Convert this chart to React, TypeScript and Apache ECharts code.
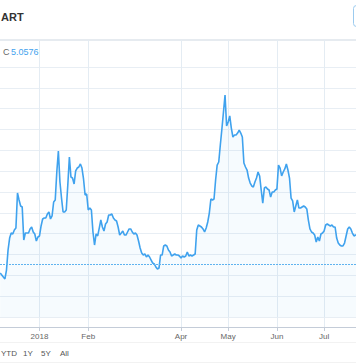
import React, { useEffect, useRef } from 'react';
import * as echarts from 'echarts';

// ---- data ----
const startDate = '2017-12-07'; // first daily close visible
const prices = [
  4.22, 4.03, 3.84, 3.65, 4.51, 6.43, 7.58, 8.06, 7.97, 8.35,
  8.54, 11.9, 11.23, 10.66, 10.56, 7.39, 8.06, 8.06, 8.06, 8.45,
  8.64, 8.16, 7.97, 7.3, 7.68, 7.78, 8.74, 9.41, 9.5, 9.5,
  9.89, 10.08, 9.41, 9.7, 11.04, 11.23, 13.92, 15.94, 12.96, 11.42,
  10.08, 10.08, 10.27, 12.67, 15.36, 13.44, 13.34, 12.77, 14.02, 14.3,
  14.4, 14.69, 14.3, 13.25, 11.71, 11.81, 10.27, 10.46, 10.27, 8.16,
  6.91, 7.97, 7.78, 8.54, 9.31, 8.64, 8.26, 8.93, 9.12, 9.79,
  9.79, 9.89, 9.5, 9.31, 9.22, 8.64, 7.87, 8.06, 8.26, 7.87,
  7.87, 8.16, 8.45, 8.45, 8.16, 7.97, 8.06, 7.87, 7.3, 6.62,
  6.14, 5.95, 6.05, 5.76, 5.95, 5.76, 5.47, 5.18, 5.09, 4.8,
  4.61, 4.7, 5.95, 5.95, 6.82, 6.91, 6.82, 6.43, 6.24, 5.86,
  5.95, 6.05, 5.95, 5.95, 5.86, 5.66, 5.86, 5.76, 5.86, 6.24,
  5.86, 5.95, 5.86, 5.95, 6.05, 8.35, 8.83, 8.74, 8.64, 8.45,
  8.16, 8.54, 9.12, 9.98, 11.33, 11.23, 11.33, 13.15, 14.59, 14.88,
  16.51, 18.05, 19.68, 21.31, 18.33, 18.72, 19.3, 18.14, 17.28, 17.47,
  17.47, 17.66, 17.95, 17.66, 17.28, 14.78, 14.4, 14.11, 13.34, 12.86,
  12.58, 12.48, 12.96, 13.34, 13.92, 13.54, 12.19, 10.94, 12.38, 12.48,
  12.29, 12.19, 11.52, 12.0, 12.0, 12.19, 12.29, 14.59, 14.3, 13.54,
  13.92, 14.21, 14.69, 14.11, 13.34, 11.42, 11.14, 10.08, 10.66, 11.23,
  10.46, 10.46, 10.56, 10.66, 10.56, 10.37, 9.31, 8.45, 8.16, 8.06,
  7.87, 7.2, 7.68, 7.3, 7.97, 8.06, 8.26, 8.83, 8.93, 8.83,
  8.74, 8.83, 8.64, 8.64, 7.58, 7.1, 6.91, 6.82, 6.82, 7.1,
  7.78, 8.45, 8.64, 8.45, 8.06, 7.78, 7.87, 7.87,
];
const tickDates = ['2018-01-01', '2018-02-01', '2018-04-01', '2018-05-01', '2018-06-01', '2018-07-01'];
const tickLabels = ['2018', 'Feb', 'Apr', 'May', 'Jun', 'Jul'];
const lastClose = 5.0576;
const closeLabel = 'C';
const titleText = 'ART';
const rangeButtons = ['YTD', '1Y', '5Y', 'All'];
const viewStart = '2017-12-06T21:00:00Z';
const viewEnd = '2018-07-21T07:00:00Z';

const DAY = 86400000;
const FONT = '"Liberation Sans", Arial, sans-serif';

export default function App() {
  const ref = useRef<HTMLDivElement>(null);
  useEffect(() => {
    if (!ref.current) return;
    const chart = echarts.init(ref.current, undefined, { renderer: 'svg' });
    const t0 = Date.parse(startDate);
    const seriesData = prices.map((v, i) => [t0 + i * DAY, v]);
    const tickTs = tickDates.map((d) => Date.parse(d));
    const xMin = Date.parse(viewStart);
    const xMax = Date.parse(viewEnd);
    const labelFor = (val: number) => {
      const idx = tickTs.findIndex((t) => Math.abs(t - val) < DAY / 2);
      return idx >= 0 ? tickLabels[idx] : '';
    };
    const btnX = [1, 23, 41, 60];
    chart.setOption({
      animation: false,
      grid: [
        { left: 0, right: 0, top: 67, height: 250 },
        { left: 0, right: 0, top: 40, height: 287 },
      ],
      xAxis: [
        { type: 'value', gridIndex: 0, min: xMin, max: xMax, show: false },
        {
          type: 'value',
          gridIndex: 1,
          min: xMin,
          max: xMax,
          axisLine: { show: true, lineStyle: { color: '#c4ccd8', width: 1 } },
          axisTick: { show: true, customValues: tickTs, length: 4, lineStyle: { color: '#c4ccd8' } },
          axisLabel: {
            customValues: tickTs,
            formatter: (v: number) => labelFor(v),
            color: '#666666',
            fontSize: 8,
            fontFamily: FONT,
            margin: 5,
          },
          splitLine: { show: true, lineStyle: { color: '#e4ecf3', width: 1 } },
        },
      ],
      yAxis: [
        {
          type: 'value',
          gridIndex: 0,
          min: 0,
          max: 24,
          interval: 2,
          axisLine: { show: false },
          axisTick: { show: false },
          axisLabel: { show: false },
          splitLine: { show: true, lineStyle: { color: '#e8eef4', width: 1 } },
        },
        { type: 'value', gridIndex: 1, min: 0, max: 1, show: false },
      ],
      series: [
        {
          type: 'line',
          xAxisIndex: 0,
          yAxisIndex: 0,
          data: seriesData,
          showSymbol: false,
          symbol: 'none',
          lineStyle: { color: '#3fa2ee', width: 1.6 },
          areaStyle: { color: 'rgba(63,162,238,0.07)' },
          markLine: {
            silent: true,
            symbol: 'none',
            label: { show: false },
            lineStyle: { color: '#5fb3ef', type: [2, 1], width: 1 },
            data: [{ yAxis: lastClose }],
          },
        },
      ],
      graphic: [
        { type: 'line', shape: { x1: 0, y1: 40, x2: 356, y2: 40 }, style: { stroke: '#e6ebf0', lineWidth: 2 } },
        { type: 'line', shape: { x1: 0, y1: 342.5, x2: 356, y2: 342.5 }, style: { stroke: '#f2f2f2', lineWidth: 1 } },
        { type: 'line', shape: { x1: 0, y1: 362.5, x2: 356, y2: 362.5 }, style: { stroke: '#f2f2f2', lineWidth: 1 } },
        { type: 'rect', shape: { x: 353.5, y: 5.5, width: 20, height: 21, r: 3 }, style: { fill: '#fff', stroke: '#9ccbef', lineWidth: 1 } },
        { type: 'text', x: 1, y: 17, style: { text: titleText, fill: '#333333', font: `bold 11px ${FONT}`, textAlign: 'left', textVerticalAlign: 'middle' } },
        { type: 'text', x: 3, y: 52, style: { text: closeLabel, fill: '#666666', font: `9px ${FONT}`, textAlign: 'left', textVerticalAlign: 'middle' } },
        { type: 'text', x: 11, y: 52, style: { text: lastClose.toFixed(4), fill: '#3fa2ee', font: `9px ${FONT}`, textAlign: 'left', textVerticalAlign: 'middle' } },
        ...rangeButtons.map((b, i) => ({
          type: 'text',
          x: btnX[i],
          y: 353,
          style: { text: b, fill: '#555555', font: `8px ${FONT}`, textAlign: 'left', textVerticalAlign: 'middle' },
        })),
      ],
    });
    return () => chart.dispose();
  }, []);
  return <div ref={ref} style={{ position: 'fixed', left: 0, top: 0, width: 356, height: 364, background: '#fff' }} />;
}
